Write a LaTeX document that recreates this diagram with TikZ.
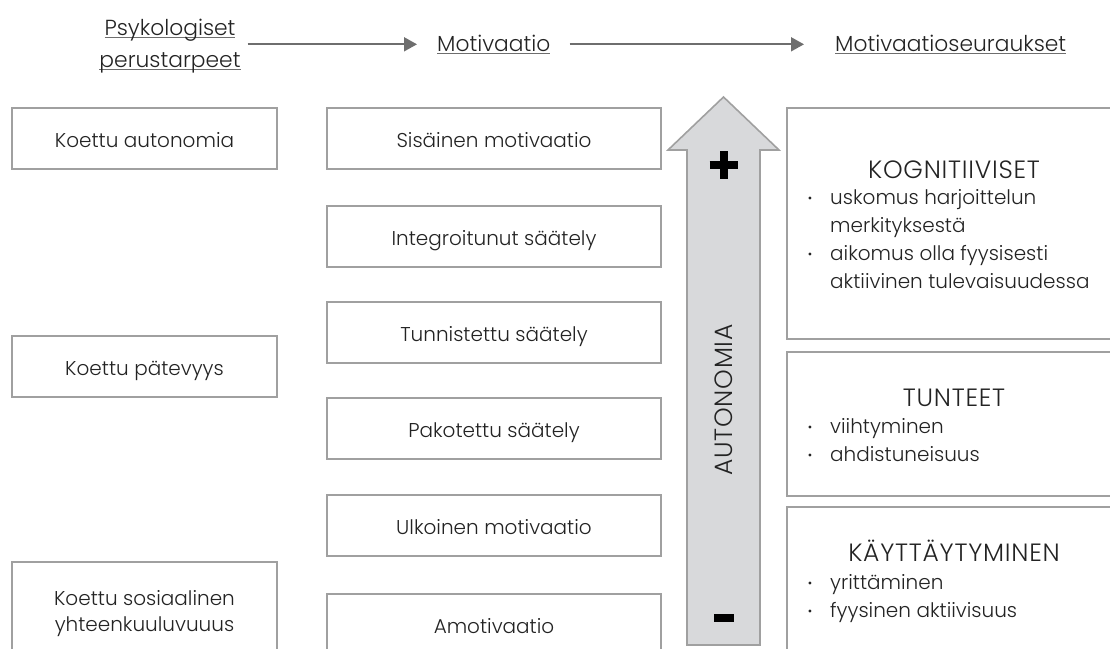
\documentclass[tikz,border=0pt]{standalone}
\usepackage{fontspec}
\setmainfont{Poppins}[UprightFont={* Light},BoldFont={* Bold}]
\usetikzlibrary{arrows.meta}
\definecolor{framegray}{RGB}{160,160,160}
\definecolor{linegray}{RGB}{110,110,110}
\definecolor{arrowfill}{RGB}{216,217,219}
\definecolor{textgray}{RGB}{35,35,35}
\tikzset{
  basicbox/.style={draw=framegray, line width=2pt, inner sep=0pt, align=center, text=textgray, font=\fontsize{20}{26}\selectfont},
  onebox/.style={basicbox, minimum height=61pt, text height=18pt, text depth=0pt},
  headtext/.style={inner sep=0pt, align=center, text=textgray, font=\fontsize{21.8}{32}\selectfont},
  titletext/.style={inner sep=0pt, text=textgray, font=\fontsize{25}{26}\selectfont\addfontfeature{LetterSpace=3}},
  listtext/.style={inner sep=0pt, align=left, text=textgray, font=\fontsize{20}{28}\selectfont},
  flowarrow/.style={draw=linegray, line width=1.8pt, -{Triangle[length=13pt,width=14pt]}},
  autoarrow/.style={draw=framegray, fill=arrowfill, line width=1.6pt}
}
\newlength{\ulinelen}
\newcommand{\ulined}[1]{\settowidth{\ulinelen}{#1}\rlap{\textcolor{linegray}{\rule[-3pt]{\ulinelen}{1pt}}}#1}
\newcommand{\needbox}[3]{\node at (#1) (#2) [onebox, minimum width=265pt] {#3};}
\newcommand{\motivbox}[3]{\node at (#1) (#2) [onebox, minimum width=334pt] {#3};}
\newcommand{\outcomebox}[3]{\node at (#1) (#2) [basicbox, minimum width=343pt, minimum height=#3] {};}
\newcommand{\outbullet}{\llap{\raisebox{1.5pt}{\fontsize{12}{12}\selectfont\textbullet}\hspace{18pt}}}

\begin{document}
\begin{tikzpicture}[x=1pt, y=-1pt]
\useasboundingbox (0,0) rectangle (1110,648);
\clip (0,0) rectangle (1110,648);

% otsikot
\node at (170,46) (psy) [headtext] {\ulined{Psykologiset}\\\ulined{perustarpeet}};
\node at (437,51) (mot) [headtext, anchor=base west] {\ulined{Motivaatio}};
\node at (835,51) (seur) [headtext, anchor=base west] {\ulined{Motivaatioseuraukset}};
\draw [flowarrow, shorten <=7pt, shorten >=20pt] (mot.west -| psy.east) -- (mot.west);
\draw [flowarrow, shorten <=19pt, shorten >=31pt] (mot.east) -- (mot.east -| seur.west);

% perustarpeet
\needbox{144.5,138}{kaut}{Koettu autonomia}
\needbox{144.5,366}{kpat}{Koettu pätevyys}
\node at (144.5,614) (ksos) [basicbox, minimum width=265pt, minimum height=104pt] {Koettu sosiaalinen\\yhteenkuuluvuuus};

% motivaatio
\motivbox{494,138}{sis}{Sisäinen motivaatio}
\motivbox{494,236}{integ}{Integroitunut säätely}
\motivbox{494,332}{tunn}{Tunnistettu säätely}
\motivbox{494,428.5}{pakot}{Pakotettu säätely}
\motivbox{494,525.5}{ulk}{Ulkoinen motivaatio}
\motivbox{494,624}{amot}{Amotivaatio}

% autonomia-nuoli
\draw [autoarrow] (687,645) -- (687,150) -- (668,150) -- (723.5,97) -- (779,150) -- (760,150) -- (760,645) -- cycle;
\draw [line width=8pt] (709.5,165) -- (737.5,165) (723.5,151) -- (723.5,179);
\draw [line width=8.5pt] (714,618) -- (734,618);
\node at (723.5,400) (autlabel) [titletext, rotate=90] {AUTONOMIA};

% seuraukset
\outcomebox{958.5,223.5}{kogn}{231pt}
\outcomebox{958.5,424}{tunt}{144pt}
\outcomebox{958.5,583.5}{kayt}{153pt}
\node at (954,178) (kognhead) [titletext, anchor=base] {KOGNITIIVISET};
\node at (954,406) (tunthead) [titletext, anchor=base] {TUNTEET};
\node at (954,561) (kaythead) [titletext, anchor=base] {KÄYTTÄYTYMINEN};
\node at (830,189) (kognlist) [listtext, anchor=north west] {\outbullet uskomus harjoittelun\\merkityksestä\\\outbullet aikomus olla fyysisesti\\aktiivinen tulevaisuudessa};
\node at (830,418) (tuntlist) [listtext, anchor=north west] {\outbullet viihtyminen\\\outbullet ahdistuneisuus};
\node at (830,574) (kaytlist) [listtext, anchor=north west] {\outbullet yrittäminen\\\outbullet fyysinen aktiivisuus};

\end{tikzpicture}
\end{document}
